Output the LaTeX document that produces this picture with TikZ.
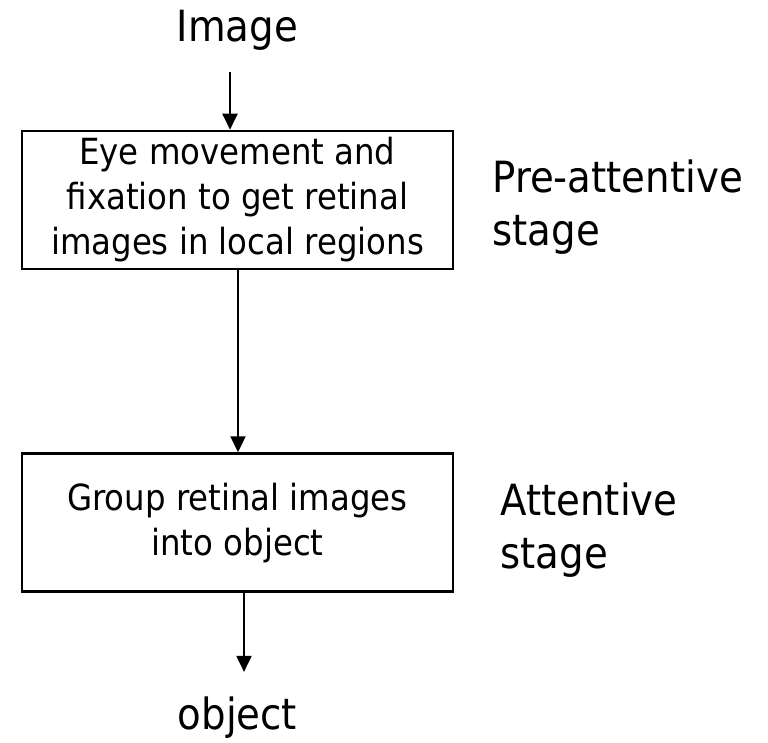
\documentclass[tikz,border=0pt]{standalone}
\usepackage{fontspec}
\setmainfont{DejaVu Sans Condensed}
\usetikzlibrary{arrows.meta,positioning}
\tikzset{
  stagebox/.style={draw=black,line width=2.6pt,minimum width=431pt,
    minimum height=138pt,align=center,inner sep=0pt,
    font=\fontsize{36}{45}\selectfont},
  flowarrow/.style={-{Triangle[length=16pt,width=15pt]},
    line width=2pt,draw=black},
  endlabel/.style={inner sep=0pt,font=\fontsize{43}{53}\selectfont},
  stagelabel/.style={inner sep=0pt,align=left,
    font=\fontsize{43}{53}\selectfont},
}

\begin{document}
\begin{tikzpicture}[x=1pt,y=1pt]
  \useasboundingbox (0,0) rectangle (768,-743);
  \node[stagebox] (eye) at (237.5,-200)
    {Eye movement and\\fixation to get retinal\\images in local regions};
  \node[endlabel,above=79pt of eye] (image) {Image};
  \node[stagebox,below=182pt of eye] (group)
    {Group retinal images\\into object};
  \node[endlabel,below=104pt of group] (object) {object};
  \node[stagelabel,right=38pt of eye,yshift=-7pt] (pre) {Pre-attentive\\stage};
  \node[stagelabel,right=46pt of group,yshift=-8pt] (att) {Attentive\\stage};
  \draw[flowarrow,shorten <=21pt] ([xshift=-7.5pt]image.south)
    -- ([xshift=-7.5pt]eye.north);
  \draw[flowarrow] ([xshift=0.5pt]eye.south) -- ([xshift=0.5pt]group.north);
  \draw[flowarrow,shorten >=25pt] ([xshift=6.5pt]group.south)
    -- ([xshift=6.5pt]object.north);
\end{tikzpicture}
\end{document}
